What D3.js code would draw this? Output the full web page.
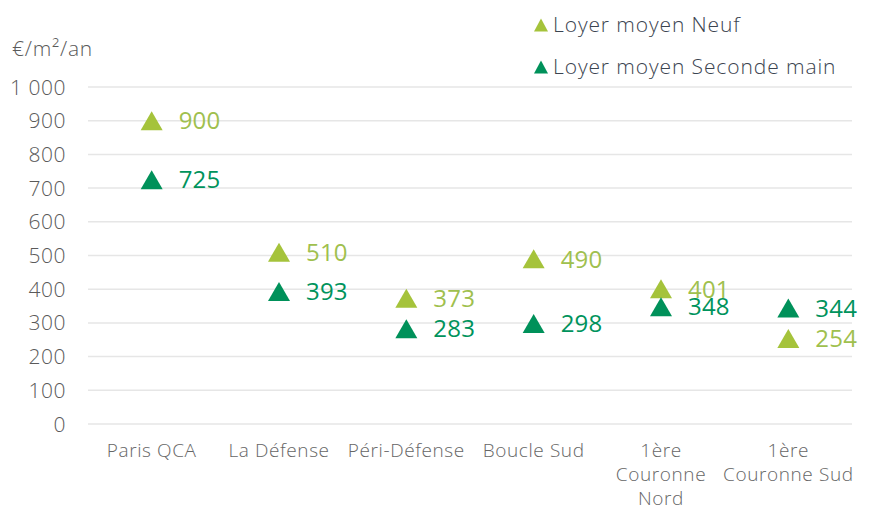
<!DOCTYPE html>
<html><head><meta charset="utf-8">
<script src="https://cdn.jsdelivr.net/npm/d3@7"></script>
<style>body{margin:0;background:#fff}svg{display:block}</style>
</head><body>
<svg id="c" width="869" height="506"></svg>
<script>
const categories = [["Paris QCA"],["La Défense"],["Péri-Défense"],["Boucle Sud"],["1ère","Couronne","Nord"],["1ère","Couronne Sud"]];
const neuf = [900, 510, 373, 490, 401, 254];
const seconde = [725, 393, 283, 298, 348, 344];
const yTicks = [0,100,200,300,400,500,600,700,800,900,1000];
const seriesNames = ["Loyer moyen Neuf","Loyer moyen Seconde main"];
const colors = ["#a5c33b","#00915a"];
const labelColors = ["#9fc04e","#00935c"];

const svg = d3.select("#c");
const font = "'Open Sans', sans-serif";
const x = d3.scaleBand().domain(d3.range(categories.length)).range([88,852]);
const y = d3.scaleLinear().domain([0,1000]).range([424,87]);

// triangle path centred on its bounding box
const triPath = (w,h) => { const p = d3.path(); p.moveTo(0,-h/2); p.lineTo(w/2,h/2); p.lineTo(-w/2,h/2); p.closePath(); return p.toString(); };

// gridlines
svg.append("g").selectAll("line").data(yTicks).join("line")
  .attr("x1",88).attr("x2",852).attr("y1",d=>y(d)).attr("y2",d=>y(d))
  .attr("stroke","#e6e6e6").attr("stroke-width",1.5);

// y tick labels
const fmt = d => d>=1000 ? d3.format(",")(d).replace(","," ") : String(d);
svg.append("g").selectAll("text").data(yTicks).join("text")
  .attr("x",66).attr("y",d=>y(d)).attr("dy","0.36em").attr("text-anchor","end")
  .attr("font-family",font).attr("font-size",21).attr("font-weight",300).attr("fill","#5a5a5a")
  .attr("letter-spacing",0.5)
  .text(fmt);

svg.append("text").attr("x",12).attr("y",56).attr("font-family",font).attr("font-size",21)
  .attr("font-weight",300).attr("fill","#5a5a5a").attr("letter-spacing",0.8).text("€/m²/an");

// category labels
const cat = svg.append("g").selectAll("text").data(categories).join("text")
  .attr("font-family",font).attr("font-size",19).attr("font-weight",300).attr("fill","#666")
  .attr("letter-spacing",0.6).attr("text-anchor","middle");
cat.each(function(lines,i){
  d3.select(this).selectAll("tspan").data(lines).join("tspan")
    .attr("x",x(i)+x.bandwidth()/2).attr("y",(d,j)=>457+j*24).text(d=>d);
});

[neuf,seconde].forEach((vals,s)=>{
  const g = svg.append("g");
  g.selectAll("path").data(vals).join("path")
    .attr("d",triPath(22,19)).attr("fill",colors[s])
    .attr("transform",(d,i)=>`translate(${x(i)+x.bandwidth()/2},${y(d)})`);
  g.selectAll("text").data(vals).join("text")
    .attr("x",(d,i)=>x(i)+x.bandwidth()/2+27).attr("y",d=>y(d)).attr("dy","0.36em")
    .attr("font-family",font).attr("font-size",24).attr("font-weight",400).attr("fill",labelColors[s])
    .attr("letter-spacing",0.2)
    .text(d=>d);
});

// legend
const leg = svg.append("g").selectAll("g").data(seriesNames).join("g")
  .attr("transform",(d,i)=>`translate(541,${25+i*42})`);
leg.append("path").attr("d",triPath(14,13)).attr("fill",(d,i)=>colors[i]);
leg.append("text").attr("x",12).attr("y",-1).attr("dy","0.36em").attr("font-family",font).attr("font-size",21)
  .attr("font-weight",300).attr("fill","#3b4450").attr("letter-spacing",0.9).text(d=>d);
</script>
</body></html>
